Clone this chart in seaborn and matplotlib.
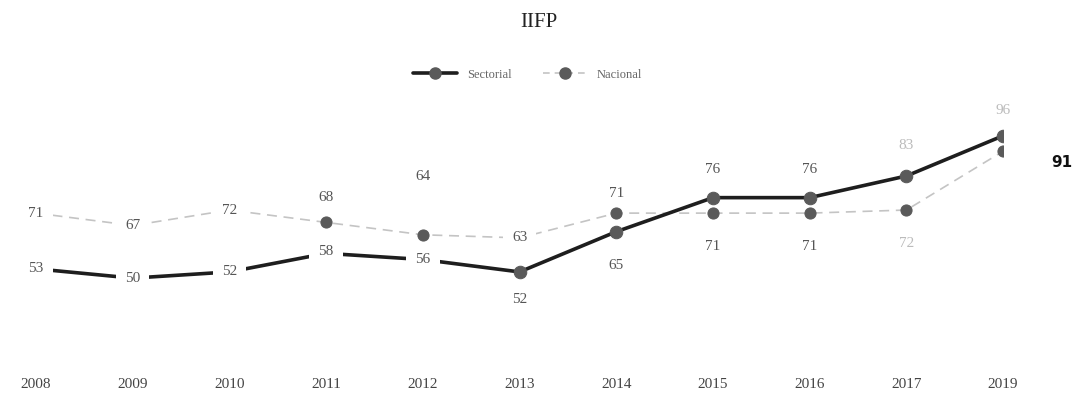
import matplotlib
matplotlib.use("Agg")
import matplotlib.pyplot as plt
import seaborn as sns
import pandas as pd
from matplotlib.lines import Line2D

# Series values
years = ["2008", "2009", "2010", "2011", "2012", "2013", "2014", "2015", "2016", "2017", "2019"]
sectorial = [53, 50, 52, 58, 56, 52, 65, 76, 76, 83, 96]
nacional = [71, 67, 72, 68, 64, 63, 71, 71, 71, 72, 91]
series_names = ["Sectorial", "Nacional"]
title = "IIFP"

sns.set_theme(style="white")
plt.rcParams["font.family"] = ["Liberation Serif", "DejaVu Serif"]

df = pd.DataFrame({
    "year": years * 2,
    "pos": list(range(len(years))) * 2,
    "value": sectorial + nacional,
    "serie": [series_names[0]] * len(years) + [series_names[1]] * len(years),
})

fig = plt.figure(figsize=(10.77, 4.03), dpi=100)
ax = fig.add_axes([0.0334, 0.0695, 0.898, 0.682])

dark = "#1e1e1e"
light = "#c4c4c4"
marker_c = "#5a5a5a"

sns.lineplot(data=df[df.serie == "Nacional"], x="pos", y="value", ax=ax,
             color=light, linewidth=1.2, linestyle=(0, (6, 4)),
             marker="o", markersize=8, markerfacecolor=marker_c,
             markeredgecolor=marker_c, legend=False, zorder=2)
sns.lineplot(data=df[df.serie == "Sectorial"], x="pos", y="value", ax=ax,
             color=dark, linewidth=2.6,
             marker="o", markersize=9, markerfacecolor=marker_c,
             markeredgecolor=marker_c, legend=False, zorder=3)

ax.set_xlim(0, len(years) - 1)
ax.set_ylim(18.7, 107.5)
ax.set_xticks(range(len(years)))
ax.set_xticklabels(years, fontsize=11, color="#444444")
ax.tick_params(axis="x", length=0, pad=2)
ax.set_yticks([])
ax.set_xlabel("")
ax.set_ylabel("")
for s in ax.spines.values():
    s.set_visible(False)

# Data labels: offset in points; "box" labels sit over the point with a white box
sect_off = [0, 0, 0, 1, 0, -20, -24, 20, 20, 22, 18]
sect_box = [True, True, True, True, True, False, False, False, False, False, False]
nac_off = [0, 0, 0, 18, 42, 0, 14, -24, -24, -24, None]
nac_box = [True, True, True, False, False, True, False, False, False, False, False]

def put_label(i, v, off, box, color):
    if off is None:
        return
    kw = dict(xytext=(0, off), textcoords="offset points", ha="center",
              va="center", fontsize=11, color=color, zorder=6)
    if box:
        kw["bbox"] = dict(boxstyle="square,pad=0.6", fc="white", ec="none")
    ax.annotate(str(v), (i, v), **kw)

for i, v in enumerate(sectorial):
    put_label(i, v, sect_off[i], sect_box[i], "#555555" if i < 9 else "#bbbbbb")
for i, v in enumerate(nacional):
    put_label(i, v, nac_off[i], nac_box[i], "#555555" if i < 9 else "#bbbbbb")

# Last national value, shown in bold to the right
ax.annotate(str(nacional[-1]), (len(years) - 1, nacional[-1]), xytext=(42, -8),
            textcoords="offset points", ha="center", va="center", fontsize=11,
            fontweight="bold", color="#111111", family="DejaVu Sans",
            annotation_clip=False)

fig.text(0.5, 0.945, title, ha="center", va="center", fontsize=15, color="#222222")

handles = [
    Line2D([], [], color=dark, linewidth=2.6, marker="o", markersize=8,
           markerfacecolor=marker_c, markeredgecolor=marker_c),
    Line2D([], [], color=light, linewidth=1.2, linestyle=(0, (4, 3)), marker="o",
           markersize=8, markerfacecolor=marker_c, markeredgecolor=marker_c),
]
fig.legend(handles, series_names, loc="center", bbox_to_anchor=(0.49, 0.815),
           ncol=2, frameon=False, fontsize=9, handlelength=3.5, columnspacing=2.5,
           labelcolor="#666666")

fig.savefig("out.png", dpi=100, facecolor="white")
